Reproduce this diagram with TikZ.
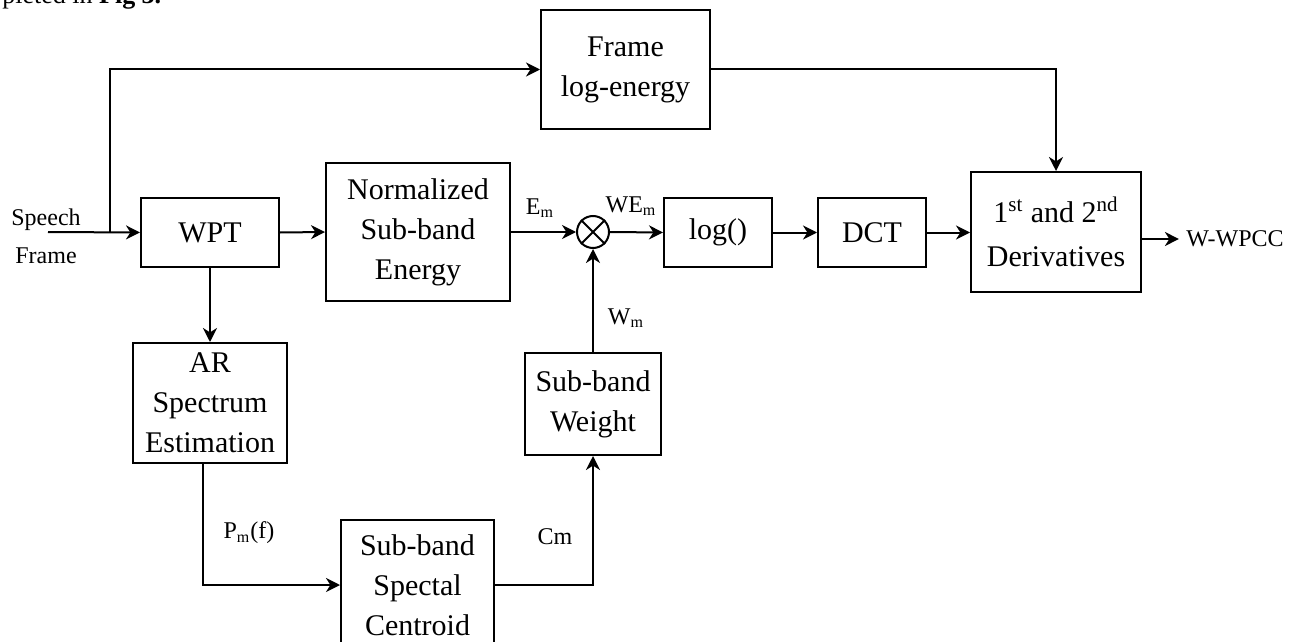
\documentclass[tikz,border=0pt]{standalone}
\usepackage{fontspec}
\setmainfont{Liberation Serif}
\usetikzlibrary{arrows.meta,calc}
\begin{document}
\begin{tikzpicture}[x=0.5pt,y=-0.5pt,
  blk/.style={draw, line width=1pt, align=center, font=\fontsize{15}{20}\selectfont, inner sep=0pt},
  lbl/.style={font=\fontsize{12}{14}\selectfont, inner sep=0pt, align=center},
  conn/.style={line width=1pt},
  arr/.style={conn, -{Stealth[length=7pt,width=7pt,inset=2.2pt]}},
]
\useasboundingbox (0,0) rectangle (1296,642);

% clipped caption fragment at top
\node[anchor=base west, inner sep=0pt, font=\fontsize{13}{15}\selectfont] (cap) at (2,4) {pleted in \textbf{Fig 3.}};

% blocks
\node[blk, minimum width=84.5pt, minimum height=59.5pt] (fle) at (625.5,69.5) {Frame\\log-energy};
\node[blk, minimum width=69pt, minimum height=34.5pt] (wpt) at (210,232.5) {WPT};
\node[blk, minimum width=92pt, minimum height=69pt] (nse) at (418,232) {Normalized\\Sub-band\\Energy};
\node[draw, circle, line width=1pt, minimum size=16pt, inner sep=0pt] (mul) at (593,232) {};
\draw[conn] (mul.north east) -- (mul.south west) (mul.north west) -- (mul.south east);
\node[blk, minimum width=54pt, minimum height=34.5pt] (log) at (718,232.5) {log()};
\node[blk, minimum width=54pt, minimum height=34.5pt] (dct) at (872,232.5) {DCT};
\node[blk, minimum width=85pt, minimum height=60pt, font=\fontsize{15}{22}\selectfont] (der) at (1056,232) {1\textsuperscript{st} and 2\textsuperscript{nd}\\Derivatives};
\node[blk, minimum width=77pt, minimum height=60pt] (ar) at (210,403) {AR\\Spectrum\\Estimation};
\node[blk, minimum width=68pt, minimum height=51pt] (wgt) at (593,404) {Sub-band\\Weight};
\node[blk, minimum width=76.5pt, minimum height=65pt] (cen) at (417.5,585) {Sub-band\\Spectal\\Centroid};

% labels
\node[lbl, font=\fontsize{12}{19}\selectfont] (sf) at (46,236) {Speech\\Frame};
\node[lbl] (out) at (1235,239) {W-WPCC};
\node[lbl] (em) at (540,208) {E\textsubscript{m}};
\node[lbl] (wem) at (631,206) {WE\textsubscript{m}};
\node[lbl] (wm) at (626,318) {W\textsubscript{m}};
\node[lbl] (pm) at (249,533) {P\textsubscript{m}(f)};
\node[lbl] (cm) at (555,537) {Cm};

% connectors
\coordinate (in) at (48,232);
\coordinate (jn) at (110,232);
\draw[arr] (in) -- (wpt.west);
\draw[arr] (jn) |- (fle.west);
\draw[arr] (fle.east) -| (der.north);
\draw[arr] (wpt.east) -- (nse.west);
\draw[arr] (nse.east) -- (mul.west);
\draw[arr] (mul.east) -- (log.west);
\draw[arr] (log.east) -- (dct.west);
\draw[arr] (dct.east) -- (dct.east -| der.west);
\draw[arr] (der.east |- out.west) -- ([xshift=-3.5pt]out.west);
\draw[arr] (wpt.south) -- (ar.north);
\draw[arr] ([xshift=-3.5pt]ar.south) |- (cen.west);
\draw[arr] (cen.east) -| (wgt.south);
\draw[arr] (wgt.north) -- (mul.south);
\end{tikzpicture}
\end{document}
